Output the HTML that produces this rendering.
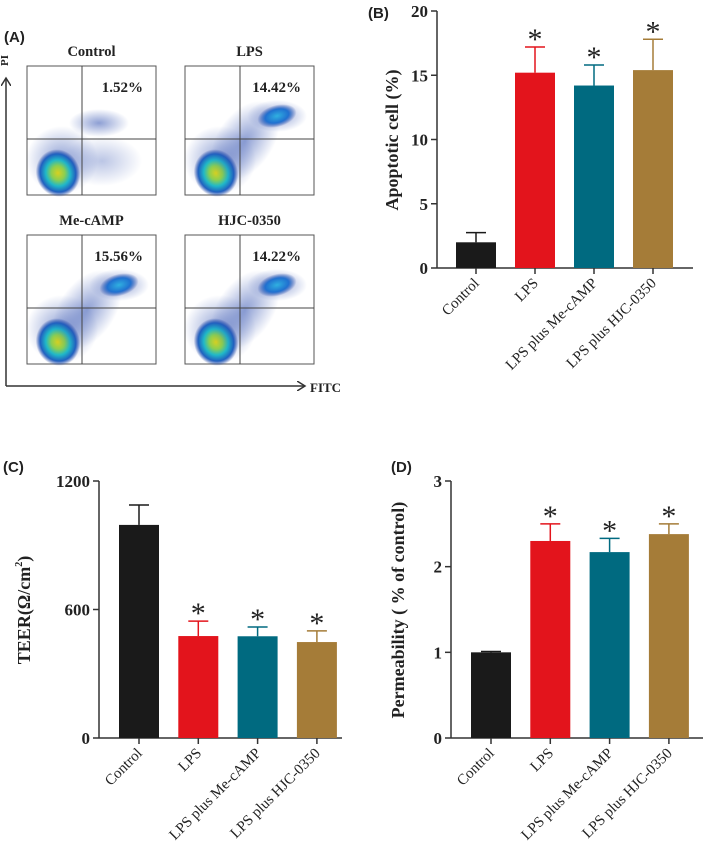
<!DOCTYPE html>
<html><head><meta charset="utf-8">
<style>
html,body{margin:0;padding:0;background:#fff;}
svg{display:block;font-family:"Liberation Serif",serif;}
</style></head>
<body>
<svg id="fig" width="709" height="857" viewBox="0 0 709 857" xmlns="http://www.w3.org/2000/svg">
<defs>
<radialGradient id="blob" cx="50%" cy="50%" r="50%">
<stop offset="0%" stop-color="#d8d020"/>
<stop offset="30%" stop-color="#8ccf50"/>
<stop offset="55%" stop-color="#20b8c8"/>
<stop offset="80%" stop-color="#2060c0"/>
<stop offset="100%" stop-color="#2040a0" stop-opacity="0"/>
</radialGradient>
<radialGradient id="blob2" cx="50%" cy="50%" r="50%">
<stop offset="0%" stop-color="#30b0e0"/>
<stop offset="60%" stop-color="#2070d0"/>
<stop offset="100%" stop-color="#2040a0" stop-opacity="0"/>
</radialGradient>
<radialGradient id="haze" cx="50%" cy="50%" r="50%">
<stop offset="0%" stop-color="#3050b0" stop-opacity="0.55"/>
<stop offset="100%" stop-color="#3050b0" stop-opacity="0"/>
</radialGradient>
<marker id="arr" markerWidth="10" markerHeight="10" refX="8" refY="5" orient="auto" markerUnits="userSpaceOnUse">
<path d="M0,0 L8,5 L0,10" fill="none" stroke="#333" stroke-width="1.5"/>
</marker>
</defs>
<g id="panelA"></g>
<g id="panelB"></g>
<g id="panelC"></g>
<g id="panelD"></g>
</svg>
<script>
const categories = ["Control","LPS","LPS plus Me-cAMP","LPS plus HJC-0350"];
const colors = ["#1a1a1a","#e3141c","#006a80","#a57c38"];
const apoptosisValues = [2.0, 15.2, 14.2, 15.4];
const apoptosisErrors = [0.75, 2.0, 1.6, 2.4];
const apoptosisSig = [false, true, true, true];
const apoptosisTicks = [0,5,10,15,20];
const teerValues = [995, 476, 475, 448];
const teerErrors = [93, 70, 43, 52];
const teerSig = [false, true, true, true];
const teerTicks = [0,600,1200];
const permValues = [1.0, 2.3, 2.17, 2.38];
const permErrors = [0.01, 0.2, 0.16, 0.12];
const permSig = [false, true, true, true];
const permTicks = [0,1,2,3];
const flowTitles = ["Control","LPS","Me-cAMP","HJC-0350"];
const flowPercents = ["1.52%","14.42%","15.56%","14.22%"];

const NS="http://www.w3.org/2000/svg";
function mk(tag, attrs, parent){const e=document.createElementNS(NS,tag);for(const k in attrs)e.setAttribute(k,attrs[k]);parent.appendChild(e);return e;}

function barChart(g, o){
  const yScale=v=>o.y0-(v/o.max)*(o.y0-o.yTop);
  const xPos=i=>o.x0+o.firstC+i*o.step;
  const ya=mk('line',{x1:o.x0,y1:o.y0,x2:o.x0,y2:yScale(o.max),stroke:'#333','stroke-width':1.5},g);
  
  
  const xa=mk('line',{x1:o.x0,y1:o.y0,x2:o.xEnd,y2:o.y0,stroke:'#333','stroke-width':1.5},g);
  
  
  o.ticks.forEach(t=>{
    const y=yScale(t);
    const tl=mk('line',{x1:o.x0-6,y1:y,x2:o.x0,y2:y,stroke:'#333','stroke-width':1.5},g);
    
    
    const tx=mk('text',{x:o.x0-9,y:y+6,'text-anchor':'end','font-size':17,'font-weight':'bold',fill:'#222'},g);
    tx.textContent=t;
    
    
  });
  o.values.forEach((v,i)=>{
    const cx=xPos(i), w=40;
    const top=yScale(v), et=yScale(v+o.errors[i]);
    const el=mk('line',{x1:cx,y1:top,x2:cx,y2:et,stroke:colors[i],'stroke-width':1.5},g);
    
    
    const ec=mk('line',{x1:cx-10,y1:et,x2:cx+10,y2:et,stroke:colors[i],'stroke-width':1.5},g);
    
    
    const r=mk('rect',{x:cx-w/2,y:top,width:w,height:o.y0-top,fill:colors[i]},g);
    
    
    const tk=mk('line',{x1:cx,y1:o.y0,x2:cx,y2:o.y0+6,stroke:'#333','stroke-width':1.5},g);
    
    
    if(o.sig[i]){
      const s=mk('text',{x:cx,y:et+2,'text-anchor':'middle','font-size':30,fill:'#222'},g);
      s.textContent='*';
      
      
    }
    const lab=mk('text',{x:cx+4,y:o.y0+16,'text-anchor':'end','font-size':15,fill:'#222',transform:`rotate(-45 ${cx+4} ${o.y0+16})`},g);
    lab.textContent=categories[i];
    
    
  });
  const yt=mk('text',{x:o.titleX,y:o.titleY,'text-anchor':'middle','font-size':18,'font-weight':'bold',fill:'#222',transform:`rotate(-90 ${o.titleX} ${o.titleY})`},g);
  yt.innerHTML=o.title;
  
  
  const pl=mk('text',{x:o.labX,y:o.labY,'font-size':15,'font-weight':'bold','font-family':'Liberation Sans, sans-serif',fill:'#222'},g);
  pl.textContent=o.label;
  
  
}

barChart(document.getElementById('panelB'),{x0:437,y0:268,yTop:11,xEnd:693,firstC:39,step:59,max:20,
  values:apoptosisValues,errors:apoptosisErrors,sig:apoptosisSig,ticks:apoptosisTicks,
  title:'Apoptotic cell (%)',titleX:398,titleY:140,label:'(B)',labX:368,labY:18});
barChart(document.getElementById('panelC'),{x0:99,y0:738,yTop:481,xEnd:342,firstC:40,step:59.3,max:1200,
  values:teerValues,errors:teerErrors,sig:teerSig,ticks:teerTicks,
  title:'TEER(Ω/cm<tspan dy="-8" font-size="10">2</tspan><tspan dy="8">)</tspan>',titleX:30,titleY:610,label:'(C)',labX:3,labY:472});
barChart(document.getElementById('panelD'),{x0:451,y0:738,yTop:481,xEnd:703,firstC:40,step:59.3,max:3,
  values:permValues,errors:permErrors,sig:permSig,ticks:permTicks,
  title:'Permeability ( % of control)',titleX:404,titleY:610,label:'(D)',labX:391,labY:472});

(function(){
  const g=document.getElementById('panelA');
  const boxes=[[27,66],[185,66],[27,235],[185,235]];
  const W=129,H=129;
  boxes.forEach((b,i)=>{
    const [x,y]=b;
    const pg=mk('g',{},g);
    
    
    mk('rect',{x:x,y:y,width:W,height:H,fill:'#fff',stroke:'#555','stroke-width':1},pg);
    mk('ellipse',{cx:x+35,cy:y+H-35,rx:36,ry:34,fill:'url(#haze)'},pg);
    mk('ellipse',{cx:x+31,cy:y+H-22,rx:22,ry:24,fill:'url(#blob)',transform:`rotate(-20 ${x+31} ${y+H-22})`},pg);
    if(i===0){
      mk('ellipse',{cx:x+72,cy:y+57,rx:30,ry:14,fill:'url(#haze)'},pg);
      mk('ellipse',{cx:x+75,cy:y+95,rx:40,ry:25,fill:'url(#haze)',opacity:0.6},pg);
    } else {
      mk('ellipse',{cx:x+60,cy:y+75,rx:28,ry:45,fill:'url(#haze)',transform:`rotate(35 ${x+60} ${y+75})`},pg);
      mk('ellipse',{cx:x+92,cy:y+50,rx:30,ry:16,fill:'url(#haze)'},pg);
      mk('ellipse',{cx:x+92,cy:y+50,rx:20,ry:11,fill:'url(#blob2)',transform:`rotate(-15 ${x+92} ${y+50})`},pg);
    }
    const vx = x+55, hy = y+73;
    mk('line',{x1:vx,y1:y,x2:vx,y2:y+H,stroke:'#444','stroke-width':1},pg);
    mk('line',{x1:x,y1:hy,x2:x+W,y2:hy,stroke:'#444','stroke-width':1},pg);
    const t=mk('text',{x:x+W/2,y:y-10,'text-anchor':'middle','font-size':14.5,'font-weight':'bold',fill:'#222'},pg);
    t.textContent=flowTitles[i];
    
    
    const p=mk('text',{x:x+W-13,y:y+26,'text-anchor':'end','font-size':15,'font-weight':'bold',fill:'#222'},pg);
    p.textContent=flowPercents[i];
    
    
  });
  const ax=mk('path',{d:'M6,386 L6,78',stroke:'#333','stroke-width':1.5,fill:'none','marker-end':'url(#arr)'},g);
  
  
  const ax2=mk('path',{d:'M6,386 L305,386',stroke:'#333','stroke-width':1.5,fill:'none','marker-end':'url(#arr)'},g);
  
  
  const pi=mk('text',{x:8,y:66,'font-size':11,'font-weight':'bold',fill:'#222',transform:'rotate(-90 8 66)'},g);
  pi.textContent='PI';
  
  
  const fi=mk('text',{x:310,y:392,'font-size':13,'font-weight':'bold',fill:'#222'},g);
  fi.textContent='FITC';
  
  
  const la=mk('text',{x:4,y:42,'font-size':15,'font-weight':'bold','font-family':'Liberation Sans, sans-serif',fill:'#222'},g);
  la.textContent='(A)';
  
  
})();
</script>
</body></html>
